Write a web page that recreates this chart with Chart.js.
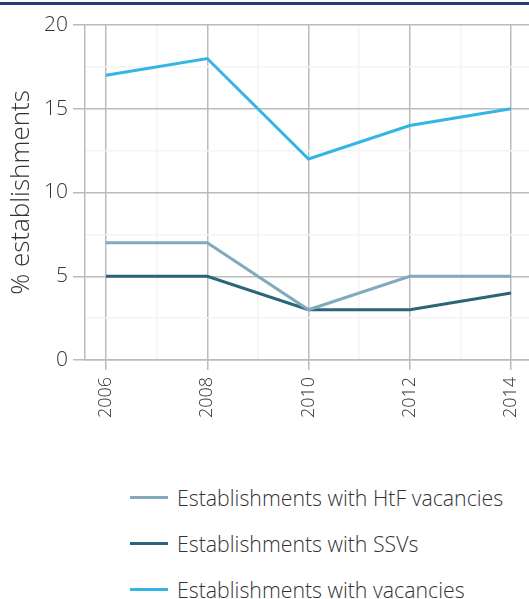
<!DOCTYPE html>
<html>
<head>
<meta charset="utf-8">
<script src="https://cdn.jsdelivr.net/npm/chart.js@4"></script>
<style>
  html, body { margin: 0; padding: 0; background: #fff; }
  body { width: 529px; height: 599px; position: relative; overflow: hidden; font-family: "Open Sans", sans-serif; font-weight: 300; }
  .topRule { position: absolute; left: 0; top: 2px; width: 529px; height: 3px; background: #1f3f6e; }
  #wrap { position: absolute; left: 0; top: 0; width: 529px; height: 430px; }
  #legend { position: absolute; left: 130px; top: 474px; }
  .item { display: flex; align-items: center; height: 46px; font-size: 21.3px; color: #333; white-space: nowrap; }
  .swatch { width: 38px; height: 3px; margin-right: 9px; }
</style>
</head>
<body>
<div class="topRule"></div>
<div id="wrap"><canvas id="chart" width="529" height="430"></canvas></div>
<div id="legend"></div>
<script>
const years = [2006, 2008, 2010, 2012, 2014];
const htfVacancies = [7, 7, 3, 5, 5];
const ssvs = [5, 5, 3, 3, 4];
const vacancies = [17, 18, 12, 14, 15];
const seriesNames = ['Establishments with HtF vacancies', 'Establishments with SSVs', 'Establishments with vacancies'];
const seriesColors = ['#82aabc', '#2b6678', '#33b5e5'];
const yTicks = [0, 5, 10, 15, 20];

const FONT = { family: 'Open Sans', weight: '300' };
const pts = (vals) => vals.map((v, i) => ({ x: years[i], y: v }));

const isMajorX = (v) => years.includes(v);
const isMajorY = (v) => yTicks.includes(v);

const chart = new Chart(document.getElementById('chart').getContext('2d'), {
  type: 'line',
  data: {
    datasets: [htfVacancies, ssvs, vacancies].map((vals, i) => ({
      label: seriesNames[i], data: pts(vals), borderColor: seriesColors[i], borderWidth: 3,
      pointRadius: 0, tension: 0, fill: false
    }))
  },
  options: {
    responsive: false,
    animation: false,
    layout: { padding: { top: 25, left: 0, right: 0, bottom: 0 } },
    plugins: { legend: { display: false }, tooltip: { enabled: false } },
    scales: {
      x: {
        type: 'linear', min: 2005.585, max: 2014.355,
        afterBuildTicks: (s) => { s.ticks = []; for (let y = 2006; y <= 2014; y++) s.ticks.push({ value: y }); },
        afterFit: (s) => { s.height = 70; s.paddingLeft = 0; s.paddingRight = 0; },
        border: { display: true, color: '#bbbbbb', width: 1.5 },
        grid: {
          color: (c) => isMajorX(c.tick && c.tick.value) ? '#bbbbbb' : '#f3f3f3',
          tickColor: (c) => isMajorX(c.tick && c.tick.value) ? '#bbbbbb' : 'rgba(0,0,0,0)',
          lineWidth: 1.5,
          tickLength: 10
        },
        ticks: {
          autoSkip: false, minRotation: 90, maxRotation: 90, padding: 7,
          color: '#333', font: { ...FONT, size: 18 },
          callback: (v) => isMajorX(v) ? String(v) : ''
        }
      },
      y: {
        min: 0, max: 20,
        afterBuildTicks: (s) => { s.ticks = []; for (let v = 0; v <= 20; v += 2.5) s.ticks.push({ value: v }); },
        afterFit: (s) => { s.width = 85; },
        border: { display: true, color: '#bbbbbb', width: 1.5 },
        grid: {
          color: (c) => isMajorY(c.tick && c.tick.value) ? '#bbbbbb' : '#f3f3f3',
          tickColor: (c) => isMajorY(c.tick && c.tick.value) ? '#bbbbbb' : 'rgba(0,0,0,0)',
          lineWidth: 1.5,
          tickLength: 12
        },
        ticks: {
          padding: 5, color: '#333', font: { ...FONT, size: 21 },
          callback: (v) => isMajorY(v) ? String(v) : ''
        },
        title: { display: true, text: '% establishments', color: '#333', font: { ...FONT, size: 26 }, padding: { top: 6, bottom: 0 } }
      }
    }
  }
});

// legend built from the datasets
const legend = document.getElementById('legend');
chart.data.datasets.forEach((ds) => {
  const row = document.createElement('div');
  row.className = 'item';
  const sw = document.createElement('div');
  sw.className = 'swatch';
  sw.style.background = ds.borderColor;
  const label = document.createElement('span');
  label.textContent = ds.label;
  row.appendChild(sw); row.appendChild(label);
  legend.appendChild(row);
});
</script>
</body>
</html>
